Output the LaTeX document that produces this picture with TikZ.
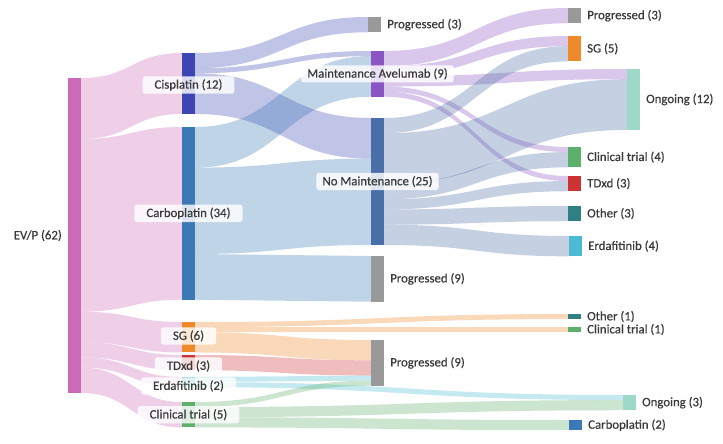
\documentclass[tikz,border=0pt]{standalone}
\usepackage{fontspec}
\setmainfont{Carlito}
\newfontfamily\lblfont[BoldFont=Carlito, BoldFeatures={FakeBold=0.5}]{Carlito}
\usetikzlibrary{calc}
\pgfdeclarelayer{bg}
\pgfsetlayers{bg,main}
\definecolor{cEVP}{HTML}{CC6AB8}
\definecolor{cCis}{HTML}{3B46B4}
\definecolor{cCarbo}{HTML}{3A78B6}
\definecolor{cProg}{HTML}{999999}
\definecolor{cMA}{HTML}{8A55C2}
\definecolor{cNoM}{HTML}{4A6FA8}
\definecolor{cSG}{HTML}{EE8A2A}
\definecolor{cTD}{HTML}{CC3333}
\definecolor{cErd}{HTML}{4CBAD2}
\definecolor{cCT}{HTML}{5DAF6C}
\definecolor{cOng}{HTML}{9DD8C8}
\definecolor{cOther}{HTML}{2E8082}
\definecolor{cTxt}{HTML}{3A3A3A}
\tikzset{
  barbox/.style={draw=none, minimum width=13pt, inner sep=0pt, outer sep=0pt, anchor=north west},
  lbl/.style={font=\lblfont\bfseries\fontsize{12.8}{15}\selectfont, text=cTxt, inner sep=1pt},
  lbox/.style={lbl, fill=white, fill opacity=0.82, text opacity=1, rounded corners=2.5pt, inner xsep=12pt, inner ysep=3pt},
  lbox2/.style={lbox, inner xsep=6pt},
}
\newcommand\un{5.08}
% name, x, y(top), units, colour
\newcommand\mkbar[5]{\node[barbox, fill=#5, minimum height={#4*\un pt}] (#1) at (#2,#3) {};}
% source, source offset, target, target offset, width, colour
\newcommand\flow[6]{%
  \path (#1.north east) ++(0,{#2*\un}) coordinate (A1) ++(0,{#5*\un}) coordinate (A2);
  \path (#3.north west) ++(0,{#4*\un}) coordinate (B1) ++(0,{#5*\un}) coordinate (B2);
  \fill[#6, fill opacity=0.32] let \p1=(A1), \p2=(B1), \n1={0.5*(\x2-\x1)} in
    (A1) .. controls +(\n1,0pt) and +(-\n1,0pt) .. (B1) -- (B2)
    .. controls +(-\n1,0pt) and +(\n1,0pt) .. (A2) -- cycle;
}
\begin{document}
\begin{tikzpicture}[x=1pt,y=-1pt]
\useasboundingbox (0,0) rectangle (723,444);
% column 0
\mkbar{evp}{68}{78}{62}{cEVP}
% column 1
\mkbar{cis}{182}{53}{12}{cCis}
\mkbar{carbo}{182}{127}{34}{cCarbo}
\mkbar{sg}{182}{322}{6}{cSG}
\mkbar{tdxd}{182}{355}{3}{cTD}
\mkbar{erd}{182}{377}{2}{cErd}
\mkbar{ct}{182}{402}{5}{cCT}
% column 2
\mkbar{progA}{368}{17}{3}{cProg}
\mkbar{ma}{371}{51}{9}{cMA}
\mkbar{nom}{371}{118}{25}{cNoM}
\mkbar{progB}{371}{256}{9}{cProg}
\mkbar{progC}{371}{340}{9}{cProg}
% column 3
\mkbar{progD}{568}{8}{3}{cProg}
\mkbar{sgB}{568}{36}{5}{cSG}
\mkbar{ongA}{627}{69}{12}{cOng}
\mkbar{ctB}{568}{147}{4}{cCT}
\mkbar{tdxdB}{568}{176}{3}{cTD}
\mkbar{otherA}{568}{206}{3}{cOther}
\mkbar{erdB}{569}{236}{4}{cErd}
\mkbar{otherB}{568}{314}{1}{cOther}
\mkbar{ctC}{568}{327}{1}{cCT}
\mkbar{ongB}{623}{395}{3}{cOng}
\mkbar{carboB}{569}{420}{2}{cCarbo}
\begin{pgfonlayer}{bg}
% EV/P
\flow{evp}{0}{cis}{0}{12}{cEVP}
\flow{evp}{12}{carbo}{0}{34}{cEVP}
\flow{evp}{46}{sg}{0}{6}{cEVP}
\flow{evp}{52}{tdxd}{0}{3}{cEVP}
\flow{evp}{55}{erd}{0}{2}{cEVP}
\flow{evp}{57}{ct}{0}{5}{cEVP}
% Cisplatin
\flow{cis}{0}{progA}{0}{3}{cCis}
\flow{cis}{3}{ma}{0}{1}{cCis}
\flow{cis}{4}{nom}{0}{8}{cCis}
% Carboplatin
\flow{carbo}{0}{ma}{1}{8}{cCarbo}
\flow{carbo}{8}{nom}{8}{17}{cCarbo}
\flow{carbo}{25}{progB}{0}{9}{cCarbo}
% Maintenance Avelumab
\flow{ma}{0}{progD}{0}{3}{cMA}
\flow{ma}{3}{sgB}{0}{2}{cMA}
\flow{ma}{5}{ongA}{0}{2}{cMA}
\flow{ma}{7}{ctB}{0}{1}{cMA}
\flow{ma}{8}{tdxdB}{0}{1}{cMA}
% No Maintenance
\flow{nom}{0}{sgB}{2}{3}{cNoM}
\flow{nom}{3}{ongA}{2}{10}{cNoM}
\flow{nom}{13}{ctB}{1}{3}{cNoM}
\flow{nom}{16}{tdxdB}{1}{2}{cNoM}
\flow{nom}{18}{otherA}{0}{3}{cNoM}
\flow{nom}{21}{erdB}{0}{4}{cNoM}
% SG
\flow{sg}{0}{otherB}{0}{1}{cSG}
\flow{sg}{1}{ctC}{0}{1}{cSG}
\flow{sg}{2}{progC}{0}{4}{cSG}
% TDxd
\flow{tdxd}{0}{progC}{4}{3}{cTD}
% Erdafitinib
\flow{erd}{0}{progC}{7}{1}{cErd}
\flow{erd}{1}{ongB}{0}{1}{cErd}
% Clinical trial
\flow{ct}{0}{progC}{8}{1}{cCT}
\flow{ct}{1}{ongB}{1}{2}{cCT}
\flow{ct}{3}{carboB}{0}{2}{cCT}
\end{pgfonlayer}
% labels
\node[lbl, anchor=east] (levp) at ([xshift=-5pt]evp.west) {EV/P (62)};
\node[lbox] (lcis) at (cis.center |- 0,85) {Cisplatin (12)};
\node[lbox] (lcarbo) at (carbo.center) {Carboplatin (34)};
\node[lbox] (lsg) at (sg.center |- 0,336) {SG (6)};
\node[lbox] (ltdxd) at (tdxd.center |- 0,366) {TDxd (3)};
\node[lbox] (lerd) at (erd.center |- 0,386) {Erdafitinib (2)};
\node[lbox] (lct) at (ct.center) {Clinical trial (5)};
\node[lbox2] (lma) at (ma.center) {Maintenance Avelumab (9)};
\node[lbox2] (lnom) at (nom.center) {No Maintenance (25)};
\node[lbl, anchor=west] (lprogA) at ([xshift=5pt]progA.east) {Progressed (3)};
\node[lbl, anchor=west] (lprogB) at ([xshift=5pt]progB.east) {Progressed (9)};
\node[lbl, anchor=west] (lprogC) at ([xshift=5pt]progC.east) {Progressed (9)};
\node[lbl, anchor=west] (lprogD) at ([xshift=5pt]progD.east) {Progressed (3)};
\node[lbl, anchor=west] (lsgB) at ([xshift=5pt]sgB.east) {SG (5)};
\node[lbl, anchor=west] (longA) at ([xshift=5pt]ongA.east) {Ongoing (12)};
\node[lbl, anchor=west] (lctB) at ([xshift=5pt]ctB.east) {Clinical trial (4)};
\node[lbl, anchor=west] (ltdxdB) at ([xshift=5pt]tdxdB.east) {TDxd (3)};
\node[lbl, anchor=west] (lotherA) at ([xshift=5pt]otherA.east) {Other (3)};
\node[lbl, anchor=west] (lerdB) at ([xshift=5pt]erdB.east) {Erdafitinib (4)};
\node[lbl, anchor=west] (lotherB) at ([xshift=5pt]otherB.east) {Other (1)};
\node[lbl, anchor=west] (lctC) at ([xshift=5pt]ctC.east) {Clinical trial (1)};
\node[lbl, anchor=west] (longB) at ([xshift=5pt]ongB.east) {Ongoing (3)};
\node[lbl, anchor=west] (lcarboB) at ([xshift=5pt]carboB.east) {Carboplatin (2)};
\end{tikzpicture}
\end{document}
